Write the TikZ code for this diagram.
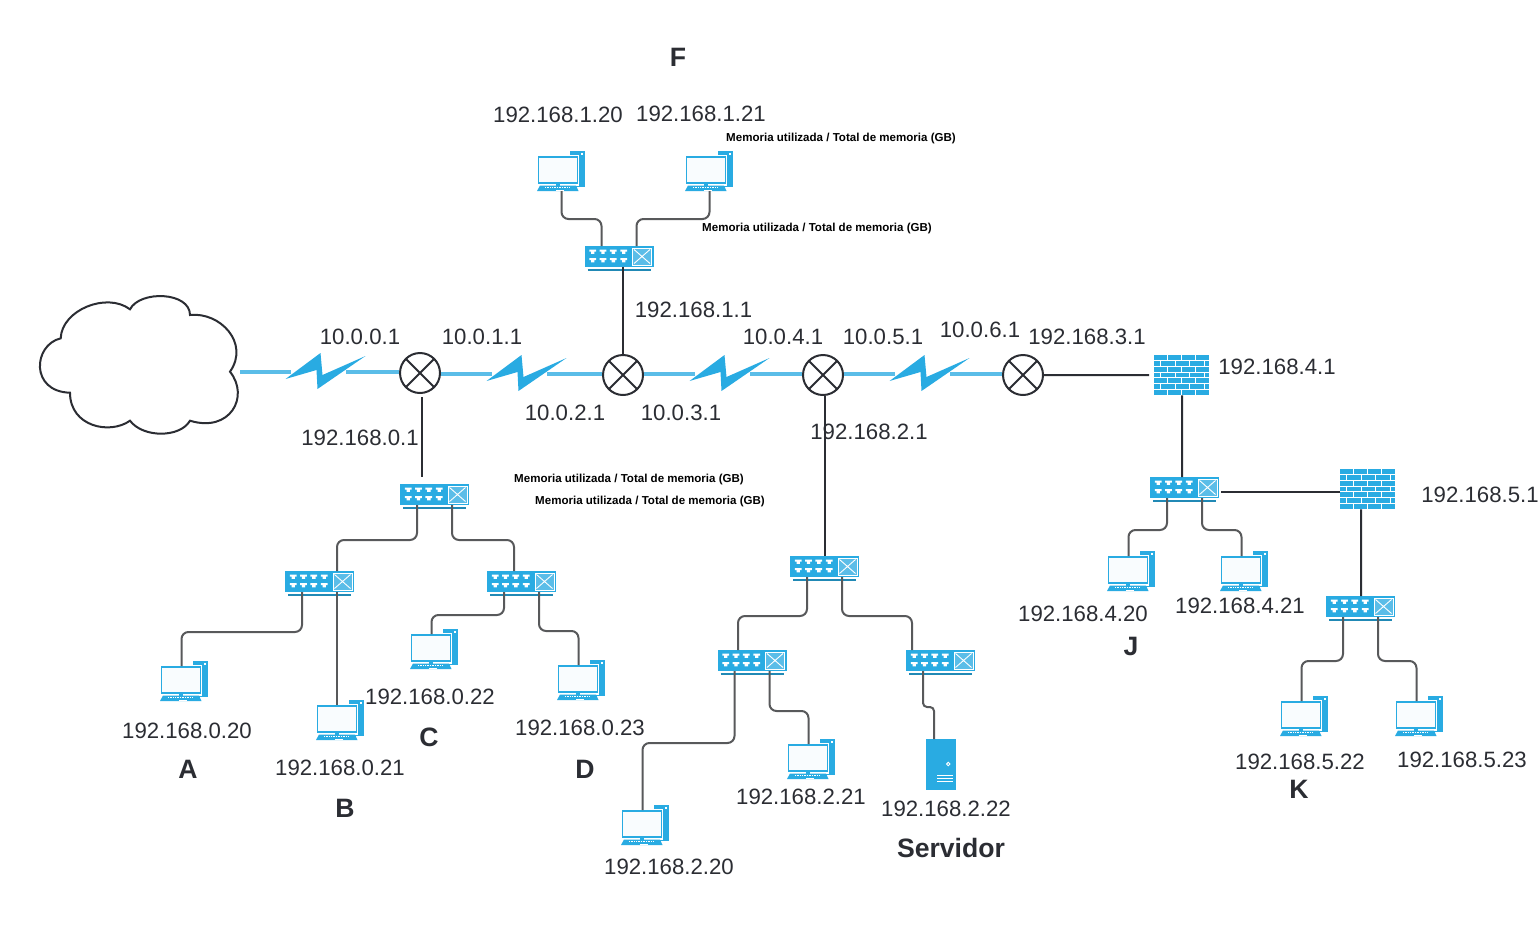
\documentclass[tikz,border=0pt]{standalone}
\usepackage{fontspec}
\setmainfont{Liberation Sans}
\usepackage{tikz}
\usetikzlibrary{calc}
\definecolor{netblue}{HTML}{29ABE2}
\definecolor{linkblue}{HTML}{5BBDE8}
\definecolor{ink}{HTML}{2B2D33}
\definecolor{wiregrey}{HTML}{58595B}
\tikzset{
  ip/.style={text=ink,inner sep=0pt,font=\fontsize{22.2}{24}\selectfont},
  tag/.style={text=ink,inner sep=0pt,font=\bfseries\fontsize{26.6}{28}\selectfont},
  mem/.style={text=black,inner sep=0pt,font=\bfseries\fontsize{11.55}{13}\selectfont},
  trunk/.style={ink,line width=2pt},
  wire/.style={wiregrey,line width=2pt,rounded corners=7pt},
  wan/.style={linkblue,line width=3.5pt},
  router/.style={circle,draw=ink,line width=2pt,fill=white,minimum size=40pt,inner sep=0pt,
    path picture={\draw[ink,line width=2pt] (path picture bounding box.north west)--(path picture bounding box.south east)
      (path picture bounding box.north east)--(path picture bounding box.south west);}},
  pics/switch/.style={code={
    \node[fill=netblue,minimum width=69pt,minimum height=21pt,inner sep=0pt,anchor=north] (-n) at (0,0) {};
    \draw[white,line width=.8pt,fill=linkblue] (13.5,2) rectangle (32.5,19);
    \draw[white,line width=.9pt] (15,3.5)--(31,17.5) (31,3.5)--(15,17.5);
    \foreach \px in {-26.3,-16,-5.7,4.7}
      \foreach \py in {3.5,12}
        \fill[white] (\px-3.4,\py) rectangle (\px+3.4,\py+2.2) (\px-1.7,\py+2.2) rectangle (\px+1.7,\py+4.4);
    \draw[netblue!80!black,line width=1.3pt] (-31.5,24)--(31.5,24);
    \coordinate (-bl) at (-17.5,21);
    \coordinate (-br) at (17.5,21);
    \coordinate (-tl) at (-17.5,0);
    \coordinate (-tr) at (17.5,0);
  }},
  pics/laptop/.style={code={
    \node[minimum width=48pt,minimum height=40pt,inner sep=0pt,anchor=north west] (-n) at (0,0) {};
    \fill[netblue] (33,0) rectangle (48,36);
    \fill[white] (43.5,1.5) rectangle (46,3.5);
    \fill[white] (0,4) rectangle (42,35);
    \fill[netblue] (.8,5) rectangle (41,32.5);
    \fill[white!97!netblue] (2.2,6.5) rectangle (39.5,30.5);
    \fill[netblue] (18.5,32) rectangle (23,35);
    \fill[netblue] (3,34.5)--(39,34.5)--(41.5,40)--(0,40)--cycle;
    \draw[white,line width=.7pt,dash pattern=on 1pt off .7pt] (8,36.7)--(33,36.7);
    \fill[white] (19,38.6) rectangle (27,40);
    \coordinate (-port) at (24.5,40);
    \coordinate (-top) at (21.5,5);
  }},
  pics/bolt/.style={code={
    \fill[netblue] (-39,8)--(-4,-18)--(-2,4)--(41,-15)--(-7,18)--(-8,-1)--cycle;
    \coordinate (-w) at (-34,1);
    \coordinate (-e) at (21,1);
  }},
  pics/firewall/.style={code={
    \node[fill=netblue,minimum width=55pt,minimum height=40pt,inner sep=0pt,anchor=north west] (-n) at (0,0) {};
    \foreach \ry in {5.4,11.2,17,22.7,28.4,34.1}
      \draw[white,line width=.8pt] (0,\ry)--(55,\ry);
    \foreach \ry in {0,11.2,22.7,34.1}
      \foreach \bx in {13.5,27.5,41.5}
        \draw[white,line width=.8pt] (\bx,\ry)--(\bx,\ry+5.6);
    \foreach \ry in {5.4,17,28.4}
      \foreach \bx in {6.7,21,35.3,50}
        \draw[white,line width=.8pt] (\bx,\ry)--(\bx,\ry+5.8);
  }},
  pics/serverbox/.style={code={
    \node[fill=netblue,minimum width=30pt,minimum height=51pt,inner sep=0pt,anchor=north] (-n) at (0,0) {};
    \draw[white,line width=.9pt] (7.3,25) circle (1.7pt);
    \draw[white,line width=.9pt] (-4,36)--(12,36) (-4,39.3)--(12,39.3) (-4,42.6)--(12,42.6);
  }},
}
\begin{document}
\begin{tikzpicture}[x=1pt,y=-1pt]
 \useasboundingbox (0,0) rectangle (1540,930);
 % cloud
 \draw[ink,line width=2pt,fill=white] (60.7,338.3)
   .. controls (61.7,310) and (106.7,291.7) .. (130,309.3)
   .. controls (140,290) and (190,291.7) .. (190,315)
   .. controls (220,311.7) and (250,343) .. (230,371.7)
   .. controls (250,396.7) and (230,433) .. (190,420.7)
   .. controls (180,438) and (143,438) .. (130,420.7)
   .. controls (110,435) and (70,426.7) .. (70,392.7)
   .. controls (30,391.7) and (33,345) .. (60.7,338.3) -- cycle;
 \coordinate (cloud) at (240,372);
 % routers
 \node[router] (rta) at (420,373) {};
 \node[router] (rtb) at (623,375) {};
 \node[router] (rtc) at (823,375) {};
 \node[router] (rtd) at (1023,375) {};
 % wan links
 \pic (blta) at (324.5,371) {bolt};
 \pic (bltb) at (525.5,373) {bolt};
 \pic (bltc) at (728.5,373) {bolt};
 \pic (bltd) at (928.5,373) {bolt};
 \draw[wan] (cloud)--(blta-w);
 \draw[wan] (blta-e)--(blta-e -| rta.west);
 \draw[wan] (rta.east |- bltb-w)--(bltb-w);
 \draw[wan] (bltb-e)--(bltb-e -| rtb.west);
 \draw[wan] (rtb.east |- bltc-w)--(bltc-w);
 \draw[wan] (bltc-e)--(bltc-e -| rtc.west);
 \draw[wan] (rtc.east |- bltd-w)--(bltd-w);
 \draw[wan] (bltd-e)--(bltd-e -| rtd.west);
 % switches
 \pic (swo) at (434.5,484) {switch};
 \pic (swa) at (319.5,571) {switch};
 \pic (swb) at (521.5,571) {switch};
 \pic (swf) at (619,246) {switch};
 \pic (swc) at (824.5,556) {switch};
 \pic (swd) at (752,650) {switch};
 \pic (swe) at (940.5,650) {switch};
 \pic (swj) at (1184.5,477) {switch};
 \pic (swk) at (1360.5,596) {switch};
 % firewalls
 \pic (fwa) at (1154,355) {firewall};
 \pic (fwb) at (1340,469) {firewall};
 % hosts
 \pic (pca) at (160,661) {laptop};
 \pic (pcb) at (316,700) {laptop};
 \pic (pcc) at (410,629) {laptop};
 \pic (pcd) at (557,660) {laptop};
 \pic (pcf) at (537,151) {laptop};
 \pic (pcg) at (685,151) {laptop};
 \pic (pch) at (621,805) {laptop};
 \pic (pci) at (787,739) {laptop};
 \pic (pcj) at (1107,551) {laptop};
 \pic (pcl) at (1220,551) {laptop};
 \pic (pcm) at (1280,696) {laptop};
 \pic (pcn) at (1395,696) {laptop};
 \pic (srv) at (941,739) {serverbox};
 % backbone
 \draw[trunk] ([xshift=2pt,yshift=-3pt]rta.south)--([xshift=-12.5pt,yshift=7pt]swo-n.north);
 \draw[trunk] ([xshift=4pt]swf-n.south)--(rtb.north);
 \draw[trunk] ([xshift=1.5pt]rtc.south)--(swc-n.north);
 \draw[trunk] (rtd.east)--([xshift=-5pt]fwa-n.west);
 \draw[trunk] ([xshift=.5pt]fwa-n.south)--([xshift=-2.5pt]swj-n.north);
 \draw[trunk] ([xshift=2pt,yshift=-4.5pt]swj-n.east)--([yshift=-3pt]fwb-n.west);
 \draw[trunk] ([xshift=-6.5pt]fwb-n.south)--([xshift=.5pt]swk-n.north);
 % lan
 \draw[wire] (swo-bl)--++(0,35)-|(swa-tr);
 \draw[wire] (swo-br)--++(0,35)-|([xshift=-7.5pt]swb-n.north);
 \draw[wire] (swa-bl)--++(0,40)-|(pca-top);
 \draw[wire] (swa-br)--(swa-br |- pcb-top);
 \draw[wire] (swb-bl)--++(0,23)-|(pcc-top);
 \draw[wire] (swb-br)--++(0,39)-|(pcd-top);
 \draw[wire] (swf-tl)--++(0,-27)-|(pcf-port);
 \draw[wire] (swf-tr)--++(0,-27)-|(pcg-port);
 \draw[wire] (swc-bl)--++(0,39)-|(swd-n.north -| 738,0);
 \draw[wire] (swc-br)--++(0,39)-|([xshift=-28.5pt]swe-n.north);
 \draw[wire] (swd-bl)--++(0,72)-|(pch-top);
 \draw[wire] (swd-br)--++(0,40)-|(pci-top);
 \draw[wire,rounded corners=4pt] (swe-bl)--++(0,36)-|(srv-n.north -| 934,0);
 \draw[wire] (swj-bl)--++(0,32)-|(pcj-top);
 \draw[wire] (swj-br)--++(0,32)-|(pcl-top);
 \draw[wire] (swk-bl)--++(0,44)-|(pcm-top);
 \draw[wire] (swk-br)--++(0,44)-|(pcn-top);
 % addresses
 \foreach \nm/\x/\y/\txt in {ipa/360/337/10.0.0.1,ipb/482/337/10.0.1.1,ipc/565/413/10.0.2.1,ipd/681/413/10.0.3.1,
   ipe/783/337/10.0.4.1,ipf/883/337/10.0.5.1,ipg/980/330/10.0.6.1,iph/1087/337/192.168.3.1,
   ipi/1277/367/192.168.4.1,ipj/1480/495/192.168.5.1,ipk/693.5/310/192.168.1.1,ipl/360/438/192.168.0.1,
   ipm/869/432/192.168.2.1,ipn/558/115/192.168.1.20,ipo/701/114/192.168.1.21,
   ipp/187/731/192.168.0.20,ipq/340/768/192.168.0.21,ipr/430/697/192.168.0.22,ips/580/728/192.168.0.23,
   ipt/669/867/192.168.2.20,ipu/801/797/192.168.2.21,ipv/946/809/192.168.2.22,
   ipw/1083/614/192.168.4.20,ipx/1240/606/192.168.4.21,ipy/1300/762/192.168.5.22,ipz/1462/760/192.168.5.23}
   \node[ip] (\nm) at (\x,\y) {\txt};
 % hosts names
 \foreach \nm/\x/\y/\txt in {tga/188/769/A,tgb/345/808/B,tgc/429/737/C,tgd/585/769/D,tgf/678/57/F,
   tgj/1131/646/J,tgk/1299/789/K,tgs/951/848/Servidor}
   \node[tag] (\nm) at (\x,\y) {\txt};
 % memory notes
 \foreach \nm/\x/\y in {mema/841/139,memb/817/229,memc/629/480,memd/650/502}
   \node[mem] (\nm) at (\x,\y) {Memoria utilizada / Total de memoria (GB)};
\end{tikzpicture}
\end{document}
